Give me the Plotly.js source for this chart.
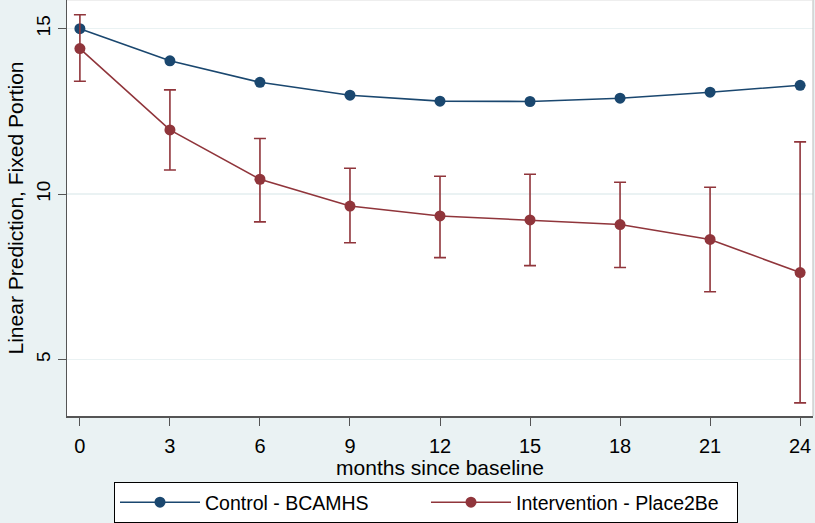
<!DOCTYPE html>
<html><head><meta charset="utf-8">
<script src="https://cdn.plot.ly/plotly-3.0.1.min.js"></script>
<style>html,body{margin:0;padding:0;background:#EAF2F3;}</style>
</head><body>
<div id="chart" style="width:815px;height:523px;"></div>
<script>
var months = [0, 3, 6, 9, 12, 15, 18, 21, 24];
var controlValues = [15.0, 14.03, 13.38, 12.99, 12.81, 12.80, 12.90, 13.08, 13.29];
var interventionValues = [14.40, 11.94, 10.45, 9.64, 9.34, 9.22, 9.08, 8.63, 7.63];
var interventionUpper = [15.42, 13.15, 11.68, 10.78, 10.54, 10.60, 10.36, 10.21, 11.58];
var interventionLower = [13.41, 10.73, 9.16, 8.53, 8.08, 7.84, 7.78, 7.05, 3.69];
var seriesNames = ["Control - BCAMHS", "Intervention - Place2Be"];
var yTicks = [5, 10, 15];

var blue = "#1a476f", red = "#90353b";
var traces = [
  {x: months, y: controlValues, name: seriesNames[0], type: "scatter", mode: "lines+markers",
   line: {color: blue, width: 1.6}, marker: {color: blue, size: 11}},
  {x: months, y: interventionValues, name: seriesNames[1], type: "scatter", mode: "lines+markers",
   line: {color: red, width: 1.6}, marker: {color: red, size: 11},
   error_y: {type: "data", symmetric: false,
     array: interventionUpper.map(function(u, i){ return u - interventionValues[i]; }),
     arrayminus: interventionLower.map(function(l, i){ return interventionValues[i] - l; }),
     color: red, thickness: 1.6, width: 6}}
];
var fam = "Liberation Sans, Arial, sans-serif";
var layout = {
  width: 815, height: 523,
  paper_bgcolor: "#EAF2F3", plot_bgcolor: "#ffffff",
  margin: {l: 67, r: 2, t: 0, b: 103},
  showlegend: true,
  font: {family: fam, color: "#000"},
  xaxis: {range: [-0.43, 24.43], tickvals: months, ticks: "outside", ticklen: 8, tickcolor: "#555",
    showgrid: false, zeroline: false, showline: true, linecolor: "#555", linewidth: 1.5,
    ticklabelstandoff: 3,
    tickfont: {size: 20, family: fam},
    title: {text: "months since baseline", font: {size: 21, family: fam}, standoff: 0}},
  yaxis: {range: [3.293, 15.868], tickvals: yTicks, ticks: "outside", ticklen: 8, tickcolor: "#555",
    tickangle: -90, showgrid: true, gridcolor: "#EAF2F3", gridwidth: 1.5, zeroline: false,
    showline: true, linecolor: "#555", linewidth: 1.5,
    tickfont: {size: 19, family: fam},
    title: {text: "Linear Prediction, Fixed Portion", font: {size: 21, family: fam}, standoff: 3}},
  legend: {orientation: "h", x: 0.063, xanchor: "left", y: -0.16, yanchor: "top",
    bgcolor: "#ffffff", bordercolor: "#000", borderwidth: 1,
    font: {size: 19.5, family: fam}, itemwidth: 80, entrywidth: 216, itemclick: false},
  shapes: [
    {type: "line", xref: "paper", yref: "paper", x0: 1, x1: 1, y0: 0, y1: 1, line: {color: "#bbb", width: 1}},
    {type: "line", xref: "paper", yref: "paper", x0: 0, x1: 1, y0: 1, y1: 1, line: {color: "#ddd", width: 1}}
  ]
};
Plotly.newPlot("chart", traces, layout, {displayModeBar: false, staticPlot: true});
</script>
</body></html>
